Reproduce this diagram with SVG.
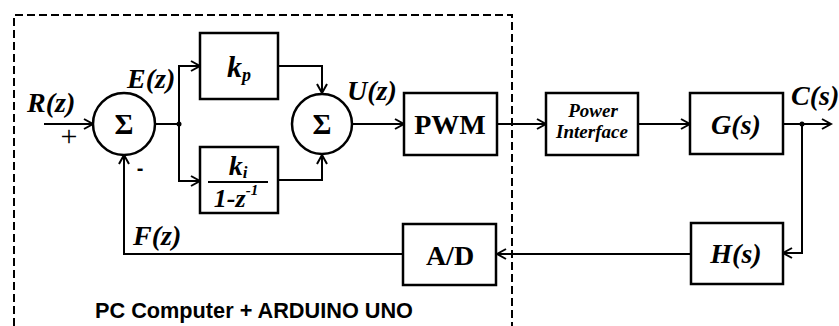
<svg xmlns="http://www.w3.org/2000/svg" width="839" height="326" viewBox="0 0 839 326">
<style>
.box{fill:#fff;stroke:#000;stroke-width:2.5}
.ln{fill:none;stroke:#000;stroke-width:2}
.m{font-family:"Liberation Serif","Times New Roman",serif;font-weight:bold;font-style:italic;fill:#000}
.b{font-family:"Liberation Serif","Times New Roman",serif;font-weight:bold;fill:#000}
.s{font-family:"Liberation Sans",Arial,sans-serif;font-weight:bold;fill:#000}
</style>
<defs>
<marker id="ar" markerUnits="userSpaceOnUse" markerWidth="12" markerHeight="12" refX="10" refY="6" orient="auto">
<path d="M1,1 L10,6 L1,11" fill="none" stroke="#000" stroke-width="2"/>
</marker>
</defs>
<rect width="839" height="326" fill="#fff"/>
<path d="M14,326 V15 H512 V326" fill="none" stroke="#000" stroke-width="2" stroke-dasharray="8 4"/>
<g id="connectors">
<path class="ln" d="M44,124 H93" marker-end="url(#ar)"/>
<path class="ln" d="M155,124 H179"/>
<path class="ln" d="M179,124 V66 H200" marker-end="url(#ar)"/>
<path class="ln" d="M179,124 V181 H200" marker-end="url(#ar)"/>
<circle cx="179" cy="124" r="2.5" fill="#000"/>
<path class="ln" d="M278,66 H322 V93" marker-end="url(#ar)"/>
<path class="ln" d="M278,180 H322 V155" marker-end="url(#ar)"/>
<path class="ln" d="M352,124 H404" marker-end="url(#ar)"/>
<path class="ln" d="M497,124 H546" marker-end="url(#ar)"/>
<path class="ln" d="M638,124 H690" marker-end="url(#ar)"/>
<path class="ln" d="M783,124 H831" marker-end="url(#ar)"/>
<circle cx="802" cy="124" r="2.5" fill="#000"/>
<path class="ln" d="M802,124 V253 H783" marker-end="url(#ar)"/>
<path class="ln" d="M691,254 H497" marker-end="url(#ar)"/>
<path class="ln" d="M403,254 H124 V155" marker-end="url(#ar)"/>
</g>
<g id="sum1">
<circle cx="124" cy="124" r="31" class="box"/>
<text x="124" y="134" class="b" font-size="29" text-anchor="middle">Σ</text>
</g>
<g id="sum2">
<circle cx="322" cy="124" r="30" class="box"/>
<text x="322" y="134" class="b" font-size="29" text-anchor="middle">Σ</text>
</g>
<g id="kp">
<rect x="200" y="33" width="78" height="66" class="box"/>
<text x="239" y="77" class="m" font-size="30" text-anchor="middle">k<tspan font-size="18" dy="4">p</tspan></text>
</g>
<g id="ki">
<rect x="200" y="147" width="78" height="66" class="box"/>
<text x="238" y="175" class="m" font-size="28" text-anchor="middle">k<tspan font-size="17" dy="3">i</tspan></text>
<line x1="208" y1="182" x2="268" y2="182" stroke="#000" stroke-width="2"/>
<text x="236" y="207" class="m" font-size="26" text-anchor="middle">1-z<tspan font-size="15" dy="-12">-1</tspan></text>
</g>
<g id="pwm">
<rect x="404" y="93" width="93" height="62" class="box"/>
<text x="450" y="134" class="b" font-size="28" text-anchor="middle">PWM</text>
</g>
<g id="power">
<rect x="546" y="93" width="92" height="62" class="box"/>
<text x="593" y="117" class="m" font-size="19" text-anchor="middle">Power</text>
<text x="592" y="138" class="m" font-size="19" text-anchor="middle">Interface</text>
</g>
<g id="g">
<rect x="690" y="93" width="93" height="61" class="box"/>
<text x="736" y="134" class="m" font-size="28" text-anchor="middle">G(s)</text>
</g>
<g id="h">
<rect x="691" y="223" width="92" height="61" class="box"/>
<text x="736" y="263" class="m" font-size="28" text-anchor="middle">H(s)</text>
</g>
<g id="ad">
<rect x="403" y="224" width="93" height="61" class="box"/>
<text x="450" y="265" class="b" font-size="28" text-anchor="middle">A/D</text>
</g>
<g id="labels">
<text x="27" y="112" class="m" font-size="28">R(z)</text>
<text x="69" y="146" font-family="Liberation Serif,serif" font-size="30" text-anchor="middle">+</text>
<text x="140" y="175" class="s" font-size="20" text-anchor="middle">-</text>
<text x="127" y="88" class="m" font-size="28">E(z)</text>
<text x="347" y="100" class="m" font-size="28">U(z)</text>
<text x="133" y="245" class="m" font-size="28">F(z)</text>
<text x="791" y="105" class="m" font-size="28">C(s)</text>
<text x="95" y="318" class="s" font-size="22" textLength="318" lengthAdjust="spacingAndGlyphs">PC Computer + ARDUINO UNO</text>
</g>
</svg>
